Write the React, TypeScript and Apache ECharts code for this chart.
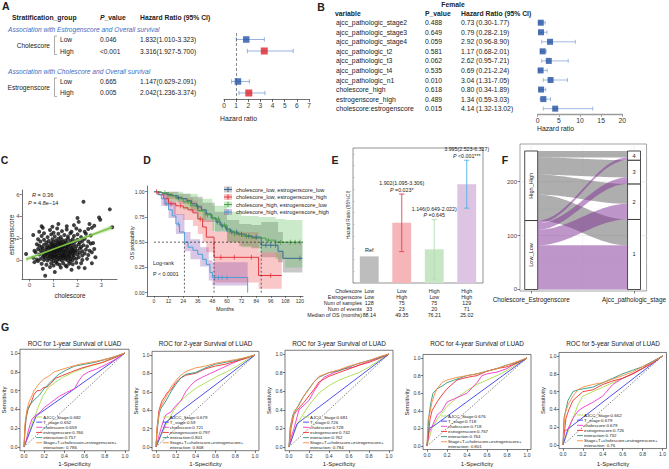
import React, { useEffect, useRef } from "react";
import * as echarts from "echarts";

const FONT = '"Liberation Sans", Arial, Helvetica, sans-serif';

/* ---------- A · stratified Cox models ---------- */
const A_STRATA = ["Cholescore", "Estrogenscore"];
const A_SUBTITLES = [
  "Association with Estrogenscore and Overall survival",
  "Association with Cholescore and Overall survival",
];
const A_LEVELS = ["Low", "High", "Low", "High"];
const A_P = ["0.046", "<0.001", "0.665", "0.005"];
const A_HR = [1.832, 3.316, 1.147, 2.042];
const A_LO = [1.01, 1.927, 0.629, 1.236];
const A_HI = [3.323, 5.7, 2.091, 3.374];
const A_TICKS = [0, 1, 2, 3, 4, 5, 6, 7];

/* ---------- B · multivariable Cox model, female patients ---------- */
const B_VARS = [
  "ajcc_pathologic_stage2",
  "ajcc_pathologic_stage3",
  "ajcc_pathologic_stage4",
  "ajcc_pathologic_t2",
  "ajcc_pathologic_t3",
  "ajcc_pathologic_t4",
  "ajcc_pathologic_n1",
  "cholescore_high",
  "estrogenscore_high",
  "cholescore:estrogenscore",
];
const B_P = ["0.488", "0.649", "0.059", "0.581", "0.062", "0.535", "0.010", "0.618", "0.489", "0.015"];
const B_HR = [0.73, 0.79, 2.92, 1.17, 2.62, 0.69, 3.04, 0.8, 1.34, 4.14];
const B_LO = [0.3, 0.28, 0.96, 0.68, 0.95, 0.21, 1.31, 0.34, 0.59, 1.32];
const B_HI = [1.77, 2.19, 8.9, 2.01, 7.21, 2.24, 7.05, 1.89, 3.03, 13.02];
const B_TICKS = [0, 5, 10, 15, 20];

/* ---------- C · cholescore vs estrogenscore ---------- */
const C_POINTS = [
  [0.65, -1.45], [1.05, -1.1], [1.75, -0.9], [2.3, -0.75], [1.3, -0.7], [0.85, -0.65], [1.55, -0.6], [2.05, -0.7], [0.55, -0.8],
  [0.2, -0.2], [0.5, -0.35], [0.7, -0.45], [0.9, -0.3], [1.0, -0.5], [1.15, -0.35], [1.25, -0.45], [1.4, -0.3], [1.5, -0.5],
  [1.65, -0.35], [1.8, -0.4], [1.95, -0.25], [2.6, -0.3], [0.35, -0.1], [1.1, -0.2], [1.7, -0.15], [2.15, -0.3],
  [0.45, 0.1], [0.6, 0.0], [0.65, 0.2], [0.75, -0.05], [0.8, 0.15], [0.9, 0.05], [0.95, 0.25], [1.0, -0.1], [1.05, 0.15],
  [1.1, 0.3], [1.15, 0.0], [1.2, 0.2], [1.25, 0.05], [1.3, 0.25], [1.35, -0.05], [1.4, 0.15], [1.45, 0.3], [1.5, 0.05],
  [1.55, 0.2], [1.6, -0.05], [1.65, 0.25], [1.7, 0.1], [1.8, 0.0], [1.85, 0.2], [1.95, 0.1], [2.05, 0.25], [2.2, 0.0],
  [0.55, 0.3], [0.3, 0.05], [-0.15, 0.55], [0.15, 0.2], [2.4, 0.1], [2.75, 0.25], [0.85, 0.35],
  [0.4, 0.5], [0.5, 0.65], [0.6, 0.4], [0.7, 0.55], [0.75, 0.35], [0.8, 0.7], [0.85, 0.5], [0.9, 0.6], [0.95, 0.4],
  [1.0, 0.55], [1.05, 0.7], [1.1, 0.45], [1.15, 0.6], [1.2, 0.4], [1.25, 0.65], [1.3, 0.5], [1.35, 0.35], [1.4, 0.6],
  [1.45, 0.45], [1.5, 0.7], [1.55, 0.4], [1.6, 0.55], [1.65, 0.45], [1.7, 0.65], [1.75, 0.35], [1.8, 0.6], [1.85, 0.45],
  [1.9, 0.7], [2.0, 0.5], [2.1, 0.65], [2.2, 0.4], [2.3, 0.6], [2.45, 0.45], [0.65, 0.6], [1.0, 0.35], [1.4, 0.4],
  [0.25, 0.7], [2.6, 0.7],
  [0.45, 0.9], [0.55, 1.05], [0.6, 0.8], [0.7, 0.95], [0.75, 0.75], [0.8, 1.1], [0.85, 0.85], [0.9, 1.0], [0.95, 0.8],
  [1.0, 0.95], [1.05, 0.75], [1.1, 1.05], [1.15, 0.85], [1.2, 1.0], [1.25, 0.8], [1.3, 1.1], [1.35, 0.9], [1.4, 0.75],
  [1.45, 1.0], [1.5, 0.85], [1.55, 1.1], [1.6, 0.8], [1.65, 0.95], [1.7, 0.75], [1.75, 1.05], [1.8, 0.9], [1.85, 0.8],
  [1.9, 1.0], [2.0, 0.85], [2.1, 1.05], [2.2, 0.8], [2.35, 0.95], [2.5, 0.85], [0.35, 1.0], [0.2, 0.85], [2.7, 1.0],
  [1.12, 0.92], [1.28, 0.95], [0.98, 0.88],
  [0.4, 1.3], [0.5, 1.2], [0.6, 1.4], [0.7, 1.15], [0.75, 1.35], [0.85, 1.2], [0.9, 1.45], [0.95, 1.25], [1.0, 1.15],
  [1.05, 1.4], [1.1, 1.2], [1.15, 1.35], [1.2, 1.5], [1.25, 1.2], [1.3, 1.4], [1.35, 1.15], [1.4, 1.3], [1.45, 1.5],
  [1.5, 1.25], [1.55, 1.4], [1.6, 1.2], [1.65, 1.45], [1.7, 1.3], [1.8, 1.15], [1.85, 1.4], [1.95, 1.25], [2.05, 1.45],
  [2.15, 1.2], [2.25, 1.35], [2.4, 1.25], [0.3, 1.45], [2.55, 1.5], [1.02, 1.32], [1.38, 1.22],
  [0.45, 1.7], [0.6, 1.85], [0.7, 1.6], [0.8, 1.75], [0.9, 1.55], [0.95, 1.9], [1.0, 1.65], [1.1, 1.8], [1.15, 1.6],
  [1.2, 1.95], [1.25, 1.7], [1.3, 1.55], [1.35, 1.85], [1.4, 1.65], [1.5, 1.8], [1.55, 1.6], [1.6, 1.95], [1.7, 1.75],
  [1.75, 1.55], [1.8, 1.9], [1.9, 1.7], [2.0, 1.85], [2.1, 1.6], [2.2, 1.75], [2.3, 1.95], [2.45, 1.7], [0.35, 1.9],
  [2.65, 1.55],
  [0.15, 2.3], [0.5, 2.2], [0.75, 2.1], [0.9, 2.35], [1.05, 2.15], [1.2, 2.4], [1.3, 2.1], [1.45, 2.3], [1.6, 2.15],
  [1.7, 2.45], [1.85, 2.2], [2.0, 2.35], [2.15, 2.1], [2.35, 2.4], [0.6, 2.45], [1.0, 2.5], [2.55, 2.25],
  [0.4, 2.6], [0.85, 2.75], [1.15, 2.9], [1.35, 2.65], [1.55, 2.8], [1.75, 2.6], [1.95, 2.9], [2.1, 2.7], [2.3, 2.6],
  [2.45, 2.85], [0.55, 2.95], [2.6, 2.95],
  [0.5, 3.1], [1.2, 3.3], [1.55, 3.1], [2.0, 3.85], [2.05, 3.5], [2.7, 3.15], [2.9, 3.9], [2.95, 3.7], [3.45, 3.0],
  [3.35, 4.65], [2.25, 5.35], [1.85, 3.2], [2.5, 3.3], [0.95, 3.05],
];
const C_FIT_INTERCEPT = 0.175;
const C_FIT_SLOPE = 0.82;
const C_BAND_X = [-0.15, 0.5, 1.2, 2.0, 2.8, 3.45];
const C_BAND_HALF = [0.22, 0.11, 0.07, 0.1, 0.17, 0.25];
const C_X_TICKS = [0, 1, 2, 3];
const C_Y_TICKS = [0, 2, 4, 6];

/* ---------- D · Kaplan–Meier by cholescore / estrogenscore ---------- */
// event times (months) and survival after each step
const KM_LL_T = [0, 3, 7, 11, 15, 19, 23, 27, 31, 35, 39, 43, 47, 51, 55, 59, 63, 69, 75, 81, 88.14, 102, 106];
const KM_LL_S = [1, 0.99, 0.98, 0.97, 0.96, 0.94, 0.93, 0.91, 0.88, 0.85, 0.82, 0.78, 0.74, 0.7, 0.66, 0.63, 0.6, 0.58, 0.56, 0.55, 0.47, 0.41, 0.34];
const KM_LL_END = 122;
const KM_LL_BT = [0, 10, 20, 30, 40, 50, 60, 70, 80, 88.14, 102, 106];
const KM_LL_LO = [1, 0.93, 0.88, 0.8, 0.7, 0.6, 0.5, 0.46, 0.44, 0.35, 0.3, 0.2];
const KM_LL_HI = [1, 1, 0.98, 0.95, 0.89, 0.8, 0.72, 0.68, 0.67, 0.7, 0.6, 0.5];
const KM_LL_CENSOR = [20, 36, 52, 56, 60, 64, 68, 72, 78, 84, 92, 96, 100, 120];

const KM_LH_T = [0, 4, 8, 12, 18, 24, 28, 32, 36, 40, 43, 49.35, 86];
const KM_LH_S = [1, 0.97, 0.93, 0.88, 0.86, 0.84, 0.82, 0.79, 0.73, 0.65, 0.55, 0.35, 0.17];
const KM_LH_END = 105;
const KM_LH_BT = [0, 8, 16, 24, 32, 36, 40, 43, 49.35, 86];
const KM_LH_LO = [1, 0.86, 0.77, 0.72, 0.66, 0.58, 0.5, 0.4, 0.1, 0.04];
const KM_LH_HI = [1, 0.99, 0.96, 0.94, 0.91, 0.87, 0.8, 0.72, 0.6, 0.4];
const KM_LH_CENSOR = [2, 14, 22, 38, 55, 66, 80, 96];

const KM_HL_T = [0, 6, 12, 18, 24, 30, 36, 42, 48, 54, 60, 66, 72, 80, 92, 100];
const KM_HL_S = [1, 0.99, 0.96, 0.93, 0.9, 0.86, 0.81, 0.77, 0.73, 0.67, 0.61, 0.58, 0.56, 0.54, 0.52, 0.5];
const KM_HL_END = 122;
const KM_HL_BT = [0, 12, 24, 36, 48, 60, 72, 86, 100, 108];
const KM_HL_LO = [1, 0.9, 0.82, 0.72, 0.61, 0.5, 0.45, 0.4, 0.33, 0.25];
const KM_HL_HI = [1, 1, 0.98, 0.93, 0.86, 0.8, 0.76, 0.75, 0.73, 0.72];
const KM_HL_CENSOR = [9, 28, 44, 53, 58, 62, 66, 70, 76, 94, 104, 112, 116, 120];

const KM_HH_T = [0, 3, 6, 9, 12, 15, 18, 21, 25.02, 28, 32, 36, 40, 43, 46, 48, 77];
const KM_HH_S = [1, 0.97, 0.93, 0.88, 0.82, 0.76, 0.68, 0.6, 0.5, 0.45, 0.42, 0.38, 0.33, 0.28, 0.2, 0.15, 0];
const KM_HH_END = 77;
const KM_HH_BT = [0, 6, 12, 18, 25.02, 30, 38, 45, 48];
const KM_HH_LO = [1, 0.86, 0.74, 0.58, 0.41, 0.33, 0.26, 0.12, 0.07];
const KM_HH_HI = [1, 0.98, 0.9, 0.78, 0.6, 0.53, 0.45, 0.32, 0.3];
const KM_HH_CENSOR = [10, 20, 50, 53, 56, 60];

const KM_X_TICKS = [0, 12, 24, 36, 48, 60, 72, 84, 96, 108, 120];
const KM_Y_TICKS = [0, 0.25, 0.5, 0.75, 1];

/* ---------- E · hazard ratios of the four groups ---------- */
const E_CHOLE = ["Low", "Low", "High", "High"];
const E_ESTRO = ["Low", "High", "Low", "High"];
const E_SAMPLES = [128, 75, 75, 129];
const E_EVENTS = [33, 23, 20, 71];
const E_MEDIAN = [88.14, 49.35, 76.21, 25.02];
const E_HR = [1, 1.902, 1.146, 3.995];
const E_LO = [null, 1.095, 0.649, 2.523];
const E_HI = [null, 3.306, 2.022, 6.327];
const E_P = [null, "0.023*", "0.645", "<0.001***"];
const E_ROWS = ["Cholescore", "Estrogenscore", "Num of samples", "Num of events", "Median of OS (months)"];

/* ---------- F · alluvial: group -> pathologic stage ---------- */
const F_AXES = ["Cholescore_Estrogenscore", "Ajcc_pathologic_stage"];
const F_LEFT = ["Low_Low", "High_High"];
const F_RIGHT = ["1", "2", "3", "4"];
const F_COUNTS = [
  [82, 29, 12, 5],
  [48, 37, 32, 12],
];
const F_Y_TICKS = [0, 100, 200];

/* ---------- G · time-dependent ROC ---------- */
const ROC_MODELS = ["AJCC_Stage", "T_stage", "cholescore", "estrogenscore", "interaction", "Stage+T+cholescore+estrogenscore+"];
const ROC_YEARS = [1, 2, 3, 4, 5];
const ROC_AUC = [
  [0.682, 0.652, 0.659, 0.766, 0.757, 0.786],
  [0.679, 0.59, 0.721, 0.797, 0.801, 0.808],
  [0.681, 0.726, 0.728, 0.742, 0.762, 0.784],
  [0.676, 0.718, 0.718, 0.767, 0.764, 0.801],
  [0.662, 0.679, 0.679, 0.726, 0.732, 0.76],
];
const ROC_1Y = [
  [[0, 0], [0.04, 0.12], [0.09, 0.28], [0.14, 0.42], [0.19, 0.55], [0.24, 0.63], [0.3, 0.68], [0.38, 0.74], [0.5, 0.8], [0.62, 0.85], [0.75, 0.89], [0.88, 0.95], [1, 1]],
  [[0, 0], [0.12, 0.33], [1, 1]],
  [[0, 0], [0.02, 0.06], [0.04, 0.16], [0.06, 0.24], [0.08, 0.3], [0.12, 0.34], [0.16, 0.37], [0.2, 0.42], [0.25, 0.46], [0.3, 0.5], [0.35, 0.54], [0.42, 0.58], [0.5, 0.62], [0.54, 0.7], [0.58, 0.76], [0.64, 0.8], [0.72, 0.83], [0.8, 0.87], [0.9, 0.93], [1, 1]],
  [[0, 0], [0.01, 0.18], [0.02, 0.3], [0.04, 0.4], [0.07, 0.47], [0.1, 0.56], [0.13, 0.6], [0.16, 0.6], [0.19, 0.63], [0.23, 0.64], [0.27, 0.68], [0.31, 0.73], [0.38, 0.76], [0.47, 0.8], [0.57, 0.84], [0.67, 0.87], [0.78, 0.9], [0.9, 0.95], [1, 1]],
  [[0, 0], [0.01, 0.22], [0.03, 0.38], [0.06, 0.45], [0.1, 0.5], [0.15, 0.55], [0.2, 0.62], [0.27, 0.7], [0.34, 0.77], [0.42, 0.82], [0.5, 0.86], [0.6, 0.88], [0.7, 0.9], [0.8, 0.93], [0.9, 0.96], [1, 1]],
  [[0, 0], [0.01, 0.25], [0.03, 0.4], [0.05, 0.48], [0.08, 0.55], [0.1, 0.6], [0.14, 0.66], [0.19, 0.72], [0.24, 0.75], [0.3, 0.8], [0.36, 0.82], [0.45, 0.85], [0.55, 0.88], [0.65, 0.9], [0.75, 0.92], [0.86, 0.95], [0.95, 0.98], [1, 1]],
];
const ROC_2Y = [
  [[0, 0], [0.05, 0.12], [0.1, 0.24], [0.18, 0.4], [0.25, 0.5], [0.33, 0.58], [0.42, 0.65], [0.52, 0.71], [0.62, 0.77], [0.72, 0.82], [0.82, 0.88], [0.92, 0.95], [1, 1]],
  [[0, 0], [0.1, 0.27], [1, 1]],
  [[0, 0], [0.02, 0.08], [0.05, 0.2], [0.08, 0.3], [0.1, 0.35], [0.15, 0.38], [0.2, 0.45], [0.25, 0.5], [0.3, 0.6], [0.35, 0.67], [0.4, 0.72], [0.47, 0.76], [0.55, 0.8], [0.65, 0.85], [0.75, 0.9], [0.86, 0.95], [1, 1]],
  [[0, 0], [0.01, 0.2], [0.03, 0.4], [0.06, 0.5], [0.09, 0.55], [0.12, 0.6], [0.15, 0.62], [0.2, 0.7], [0.25, 0.75], [0.3, 0.78], [0.4, 0.8], [0.5, 0.85], [0.6, 0.88], [0.7, 0.9], [0.8, 0.93], [0.9, 0.96], [1, 1]],
  [[0, 0], [0.01, 0.15], [0.03, 0.35], [0.05, 0.42], [0.1, 0.5], [0.15, 0.6], [0.2, 0.68], [0.25, 0.75], [0.3, 0.79], [0.4, 0.81], [0.5, 0.86], [0.6, 0.9], [0.7, 0.92], [0.8, 0.94], [0.9, 0.97], [1, 1]],
  [[0, 0], [0.01, 0.2], [0.04, 0.42], [0.08, 0.5], [0.12, 0.58], [0.15, 0.65], [0.2, 0.72], [0.25, 0.78], [0.3, 0.82], [0.4, 0.86], [0.5, 0.88], [0.6, 0.91], [0.7, 0.93], [0.8, 0.95], [0.9, 0.97], [1, 1]],
];
const ROC_3Y = [
  [[0, 0], [0.05, 0.15], [0.1, 0.28], [0.2, 0.45], [0.3, 0.58], [0.4, 0.66], [0.5, 0.72], [0.6, 0.76], [0.7, 0.8], [0.8, 0.86], [0.9, 0.93], [1, 1]],
  [[0, 0], [0.08, 0.25], [1, 1]],
  [[0, 0], [0.02, 0.1], [0.05, 0.2], [0.1, 0.4], [0.15, 0.45], [0.2, 0.5], [0.25, 0.6], [0.3, 0.68], [0.35, 0.75], [0.45, 0.8], [0.55, 0.84], [0.65, 0.86], [0.75, 0.9], [0.85, 0.94], [1, 1]],
  [[0, 0], [0.02, 0.2], [0.05, 0.35], [0.1, 0.42], [0.15, 0.48], [0.2, 0.55], [0.25, 0.62], [0.3, 0.7], [0.4, 0.76], [0.5, 0.8], [0.6, 0.84], [0.7, 0.88], [0.8, 0.91], [0.9, 0.95], [1, 1]],
  [[0, 0], [0.01, 0.2], [0.04, 0.35], [0.08, 0.42], [0.12, 0.5], [0.18, 0.6], [0.25, 0.7], [0.3, 0.75], [0.4, 0.8], [0.5, 0.82], [0.6, 0.86], [0.7, 0.9], [0.8, 0.93], [0.9, 0.96], [1, 1]],
  [[0, 0], [0.02, 0.25], [0.05, 0.38], [0.1, 0.45], [0.15, 0.55], [0.2, 0.62], [0.25, 0.7], [0.3, 0.76], [0.4, 0.8], [0.5, 0.83], [0.6, 0.87], [0.7, 0.9], [0.8, 0.93], [0.9, 0.97], [1, 1]],
];
const ROC_4Y = [
  [[0, 0], [0.05, 0.2], [0.1, 0.3], [0.2, 0.45], [0.3, 0.55], [0.4, 0.63], [0.5, 0.7], [0.6, 0.75], [0.7, 0.8], [0.8, 0.86], [0.9, 0.93], [1, 1]],
  [[0, 0], [0.02, 0.2], [0.07, 0.23], [1, 1]],
  [[0, 0], [0.02, 0.15], [0.05, 0.22], [0.1, 0.35], [0.15, 0.4], [0.2, 0.5], [0.3, 0.55], [0.4, 0.6], [0.5, 0.72], [0.55, 0.8], [0.6, 0.82], [0.7, 0.84], [0.8, 0.88], [0.9, 0.95], [1, 1]],
  [[0, 0], [0.03, 0.3], [0.05, 0.4], [0.1, 0.5], [0.15, 0.58], [0.2, 0.65], [0.25, 0.7], [0.3, 0.75], [0.4, 0.78], [0.5, 0.8], [0.6, 0.85], [0.7, 0.88], [0.8, 0.9], [0.9, 0.94], [1, 1]],
  [[0, 0], [0.02, 0.35], [0.04, 0.5], [0.06, 0.6], [0.1, 0.65], [0.15, 0.68], [0.2, 0.72], [0.3, 0.76], [0.4, 0.8], [0.5, 0.82], [0.6, 0.85], [0.7, 0.88], [0.8, 0.92], [0.9, 0.95], [1, 1]],
  [[0, 0], [0.01, 0.3], [0.03, 0.38], [0.05, 0.5], [0.08, 0.6], [0.1, 0.65], [0.15, 0.72], [0.2, 0.75], [0.3, 0.78], [0.4, 0.8], [0.5, 0.82], [0.6, 0.85], [0.7, 0.88], [0.8, 0.92], [0.9, 0.96], [1, 1]],
];
const ROC_5Y = [
  [[0, 0], [0.05, 0.15], [0.1, 0.3], [0.15, 0.45], [0.2, 0.55], [0.3, 0.6], [0.4, 0.65], [0.5, 0.7], [0.6, 0.75], [0.7, 0.8], [0.8, 0.86], [0.9, 0.93], [1, 1]],
  [[0, 0], [0.05, 0.18], [1, 1]],
  [[0, 0], [0.01, 0.15], [0.05, 0.18], [0.1, 0.3], [0.15, 0.38], [0.2, 0.42], [0.3, 0.48], [0.4, 0.55], [0.5, 0.68], [0.6, 0.75], [0.7, 0.8], [0.8, 0.86], [0.9, 0.93], [1, 1]],
  [[0, 0], [0.03, 0.3], [0.06, 0.4], [0.1, 0.5], [0.15, 0.55], [0.2, 0.6], [0.3, 0.62], [0.4, 0.68], [0.5, 0.72], [0.6, 0.75], [0.7, 0.8], [0.8, 0.86], [0.9, 0.92], [1, 1]],
  [[0, 0], [0.01, 0.3], [0.03, 0.4], [0.05, 0.5], [0.1, 0.6], [0.15, 0.62], [0.2, 0.63], [0.3, 0.65], [0.4, 0.7], [0.5, 0.75], [0.6, 0.8], [0.7, 0.84], [0.8, 0.88], [0.9, 0.94], [1, 1]],
  [[0, 0], [0.01, 0.2], [0.02, 0.35], [0.05, 0.45], [0.1, 0.55], [0.15, 0.62], [0.2, 0.65], [0.3, 0.68], [0.4, 0.7], [0.5, 0.74], [0.6, 0.78], [0.7, 0.82], [0.8, 0.88], [0.9, 0.93], [1, 1]],
];
const ROC_CURVES = [ROC_1Y, ROC_2Y, ROC_3Y, ROC_4Y, ROC_5Y];
const ROC_TICKS = [0, 0.2, 0.4, 0.6, 0.8, 1];

/* ---------- styling & layout ---------- */
const BLUE = "#2452a6";
const RED = "#e0202b";
const ROC_COLORS = ["#a9dd4b", "#3b3bf2", "#f238c6", "#f03030", "#2f967a", "#fb8a3f"];
const KM_COLORS = ["#2c5c8a", "#e0242a", "#3c9a3c", "#3d9bd3"];
const KM_BANDS = ["rgba(110,110,110,0.38)", "rgba(236,80,80,0.32)", "rgba(90,190,90,0.32)", "rgba(140,80,180,0.33)"];
const E_BAR_COLORS = ["#bdbdbd", "#f6b5b8", "#c6e6c4", "#dcc4e2"];
const E_ERR_COLORS = ["#999", "#e4424f", "#b2dcb0", "#4db3e6"];
const F_COLORS = ["rgba(128,45,150,0.5)", "rgba(85,85,85,0.48)"];

const A_ROW_TOP = 39.5;
const A_ROW_STEP = 11.5;
const A_ROW_SLOT = [0, 1, 3.65, 4.65];
const B_ROW_TOP = 22.7;
const B_ROW_STEP = 9.55;
// frames of the ROC plots: x of 0 and 1, y of 1 and 0
const G_FRAMES = [
  [24, 125, 353, 447],
  [156, 255, 355, 447],
  [289, 389, 354, 447],
  [427, 527, 358, 446],
  [563, 663, 356, 445],
];
const G_LEGEND_AT = [0.19, 0.14, 0.21, 0.21, 0.21];

function stepAt(ts: number[], ss: number[], t: number) {
  let v = ss[0];
  for (let i = 0; i < ts.length; i++) if (ts[i] <= t) v = ss[i];
  return v;
}

function stepPolygon(bt: number[], lo: number[], hi: number[], end: number) {
  const up: number[][] = [];
  const dn: number[][] = [];
  for (let i = 0; i < bt.length; i++) {
    const t1 = i + 1 < bt.length ? bt[i + 1] : end;
    up.push([bt[i], hi[i]], [t1, hi[i]]);
    dn.push([bt[i], lo[i]], [t1, lo[i]]);
  }
  return up.concat(dn.reverse());
}

function buildOption() {
  const grid: any[] = [];
  const xAxis: any[] = [];
  const yAxis: any[] = [];
  const series: any[] = [];
  const graphic: any[] = [];

  const hidden = { axisLine: { show: false, onZero: false }, axisTick: { show: false }, axisLabel: { show: false }, splitLine: { show: false } };
  const addGrid = (rect: any, xa: any, ya: any) => {
    const g = grid.length;
    grid.push({ containLabel: false, ...rect });
    xAxis.push({ ...xa, gridIndex: g });
    yAxis.push({ ...ya, gridIndex: g });
    return { x: xAxis.length - 1, y: yAxis.length - 1 };
  };
  const text = (x: number, y: number, t: string, o: any = {}) => {
    const base: any = {
      fontFamily: FONT,
      fontSize: o.size ?? 6.6,
      fill: o.color ?? "#222",
      fontWeight: o.bold ? "bold" : "normal",
      fontStyle: o.italic ? "italic" : "normal",
    };
    const style: any = {
      ...base,
      text: t,
      textAlign: o.align ?? "left",
      textVerticalAlign: o.valign ?? "middle",
      align: o.align ?? "left",
      verticalAlign: o.valign ?? "middle",
    };
    if (o.rich) {
      style.rich = {};
      for (const k in o.rich) style.rich[k] = { ...base, ...o.rich[k] };
    }
    graphic.push({ type: "text", x, y, rotation: o.rot ?? 0, silent: true, z: 60, style });
  };
  const gline = (x1: number, y1: number, x2: number, y2: number, stroke: string, w = 0.8) =>
    graphic.push({ type: "line", silent: true, z: 55, shape: { x1, y1, x2, y2 }, style: { stroke, lineWidth: w } });
  const axisLineStyle = (c = "#222", w = 0.6) => ({ color: c, width: w });
  const errRender = (color: string, cap: number) => (params: any, api: any) => {
    const y = api.value(2);
    const a = api.coord([api.value(0), y]);
    const b = api.coord([api.value(1), y]);
    const st = { stroke: color, lineWidth: 0.8 };
    return {
      type: "group",
      children: [
        { type: "line", shape: { x1: a[0], y1: a[1], x2: b[0], y2: b[1] }, style: st },
        { type: "line", shape: { x1: a[0], y1: a[1] - cap, x2: a[0], y2: a[1] + cap }, style: st },
        { type: "line", shape: { x1: b[0], y1: b[1] - cap, x2: b[0], y2: b[1] + cap }, style: st },
      ],
    };
  };

  /* ===== A ===== */
  const aRowY = A_ROW_SLOT.map((s) => A_ROW_TOP + s * A_ROW_STEP);
  text(2, 6, "A", { size: 10.5, bold: true });
  text(12, 17, "Stratification_group", { bold: true, size: 6.8 });
  text(100, 17, "{i|P}_value", { bold: true, size: 6.8, rich: { i: { fontStyle: "italic" } } });
  text(140, 17, "Hazard Ratio (95% CI)", { bold: true, size: 6.8 });
  text(8, aRowY[0] - 10.5, A_SUBTITLES[0], { italic: true, color: "#3d6cc0", size: 6.6 });
  text(8, aRowY[2] - 9.5, A_SUBTITLES[1], { italic: true, color: "#3d6cc0", size: 6.6 });
  A_STRATA.forEach((name, g) => {
    const y0 = aRowY[g * 2];
    const y1 = aRowY[g * 2 + 1];
    text(50, (y0 + y1) / 2, name, { align: "right", size: 6.6 });
    graphic.push({
      type: "polyline",
      silent: true,
      shape: { points: [[57, y0 - 3.5], [54.5, y0 - 3.5], [54.5, y1 + 3.5], [57, y1 + 3.5]] },
      style: { stroke: "#888", lineWidth: 0.7, fill: "none" },
    });
  });
  A_LEVELS.forEach((lv, i) => {
    text(60, aRowY[i], lv, { size: 6.6 });
    text(100, aRowY[i], A_P[i], { size: 6.6 });
    text(140, aRowY[i], `${A_HR[i].toFixed(3)}(${A_LO[i].toFixed(3)}-${A_HI[i].toFixed(3)})`, { size: 6.6 });
  });
  const aAx = addGrid(
    { left: 224, top: 33, width: 85, height: 66 },
    {
      type: "value", min: 0, max: 7, interval: 1,
      axisLine: { show: true, onZero: false, lineStyle: axisLineStyle("#333", 0.7) },
      axisTick: { show: true, length: 3, lineStyle: axisLineStyle("#333", 0.7) },
      axisLabel: { show: true, fontSize: 6.6, color: "#333", margin: 3, fontFamily: FONT, customValues: A_TICKS },
      splitLine: { show: false },
    },
    { type: "value", inverse: true, min: (33 - A_ROW_TOP) / A_ROW_STEP, max: (99 - A_ROW_TOP) / A_ROW_STEP, ...hidden }
  );
  series.push({
    type: "custom", xAxisIndex: aAx.x, yAxisIndex: aAx.y, clip: false,
    data: A_HR.map((_, i) => [A_LO[i], A_HI[i], A_ROW_SLOT[i]]),
    encode: { x: [0, 1], y: 2 },
    renderItem: errRender("#7d9fd9", 2.2),
  });
  series.push({
    type: "scatter", xAxisIndex: aAx.x, yAxisIndex: aAx.y, symbol: "rect",
    data: A_HR.map((v, i) => ({ value: [v, A_ROW_SLOT[i]], symbolSize: i % 2 ? 7 : 6.5, itemStyle: { color: i % 2 ? RED : BLUE } })),
    markLine: {
      silent: true, symbol: "none", label: { show: false },
      lineStyle: { type: [3, 2], color: "#555", width: 0.7 },
      data: [{ xAxis: 1 }],
    },
    z: 5,
  });
  text(220, 118, "Hazard ratio", { size: 6.8 });

  /* ===== B ===== */
  text(321, 7, "B", { size: 10.5, bold: true, align: "center" });
  text(453, 4.5, "Female", { size: 6.8, bold: true, align: "center" });
  text(335, 13.3, "variable", { size: 6.8, bold: true });
  text(425, 13.3, "P_value", { size: 6.8, bold: true });
  text(461, 13.3, "Hazard Ratio (95% CI)", { size: 6.8, bold: true });
  B_VARS.forEach((v, i) => {
    const y = B_ROW_TOP + i * B_ROW_STEP;
    text(336, y, v, { size: 6.8 });
    text(425, y, B_P[i], { size: 6.8 });
    text(461, y, `${B_HR[i].toFixed(2)} (${B_LO[i].toFixed(2)}-${B_HI[i].toFixed(2)})`, { size: 6.8 });
  });
  const bAx = addGrid(
    { left: 537.7, top: 18, width: 84.6, height: 96 },
    {
      type: "value", min: 0, max: 20, interval: 5,
      axisLine: { show: true, onZero: false, lineStyle: axisLineStyle("#9b9b9b", 1.3) },
      axisTick: { show: true, length: 3, lineStyle: axisLineStyle("#9b9b9b", 0.9) },
      axisLabel: { show: true, fontSize: 6.8, color: "#333", margin: 3, fontFamily: FONT, customValues: B_TICKS },
      splitLine: { show: false },
    },
    { type: "value", inverse: true, min: (18 - B_ROW_TOP) / B_ROW_STEP, max: (114 - B_ROW_TOP) / B_ROW_STEP, ...hidden }
  );
  series.push({
    type: "custom", xAxisIndex: bAx.x, yAxisIndex: bAx.y, clip: false,
    data: B_HR.map((_, i) => [B_LO[i], B_HI[i], i]),
    encode: { x: [0, 1], y: 2 },
    renderItem: errRender("#8aa8dc", 2),
  });
  series.push({
    type: "scatter", xAxisIndex: bAx.x, yAxisIndex: bAx.y, symbol: "rect", symbolSize: 6,
    itemStyle: { color: "#2150a0" },
    data: B_HR.map((v, i) => [v, i]),
    z: 5,
  });
  text(537, 128.5, "Hazard ratio", { size: 6.8 });

  /* ===== C ===== */
  text(4.5, 160, "C", { size: 10.5, bold: true, align: "center" });
  const cAxisCommon = (ticks: number[]) => ({
    type: "value",
    axisLine: { show: true, onZero: false, lineStyle: axisLineStyle("#111", 0.6) },
    axisTick: { show: true, length: 2.5, customValues: ticks, lineStyle: axisLineStyle("#333", 0.6) },
    axisLabel: { show: true, customValues: ticks, fontSize: 5.8, color: "#4d4d4d", margin: 2.5, fontFamily: FONT },
    splitLine: { show: false },
  });
  const cAx = addGrid(
    { left: 22, top: 190, width: 95, height: 89 },
    { ...cAxisCommon(C_X_TICKS), min: -0.32, max: 3.65 },
    { ...cAxisCommon(C_Y_TICKS), min: -1.75, max: 6.43 }
  );
  series.push({
    type: "scatter", xAxisIndex: cAx.x, yAxisIndex: cAx.y, symbolSize: 4,
    itemStyle: { color: "#111" }, data: C_POINTS,
  });
  const cFit = (x: number) => C_FIT_INTERCEPT + C_FIT_SLOPE * x;
  series.push({
    type: "custom", xAxisIndex: cAx.x, yAxisIndex: cAx.y, clip: false,
    data: [[1.2, cFit(1.2)]],
    renderItem: (_p: any, api: any) => {
      const up = C_BAND_X.map((x, i) => api.coord([x, cFit(x) + C_BAND_HALF[i]]));
      const dn = C_BAND_X.map((x, i) => api.coord([x, cFit(x) - C_BAND_HALF[i]])).reverse();
      return { type: "polygon", shape: { points: up.concat(dn) }, style: { fill: "rgba(140,205,100,0.38)" } };
    },
    z: 3,
  });
  const cxs = C_POINTS.map((p) => p[0]);
  const cx0 = Math.min(...cxs);
  const cx1 = Math.max(...cxs);
  series.push({
    type: "line", xAxisIndex: cAx.x, yAxisIndex: cAx.y, symbol: "none",
    data: [[cx0, cFit(cx0)], [cx1, cFit(cx1)]],
    lineStyle: { color: "#7cc242", width: 1.4 }, z: 4,
  });
  text(32, 194.5, "{i|R} = 0.36", { size: 5.6, rich: { i: { fontStyle: "italic" } } });
  text(28, 203.3, "{i|P} = 4.8e\u221214", { size: 5.6, rich: { i: { fontStyle: "italic" } } });
  text(70, 295, "cholescore", { size: 6.4, align: "center", color: "#222" });
  text(11, 235, "estrogenscore", { size: 6.4, align: "center", rot: Math.PI / 2, color: "#222" });

  /* ===== D ===== */
  text(147, 160, "D", { size: 10.5, bold: true, align: "center" });
  const KM = [
    { t: KM_LL_T, s: KM_LL_S, end: KM_LL_END, bt: KM_LL_BT, lo: KM_LL_LO, hi: KM_LL_HI, cens: KM_LL_CENSOR },
    { t: KM_LH_T, s: KM_LH_S, end: KM_LH_END, bt: KM_LH_BT, lo: KM_LH_LO, hi: KM_LH_HI, cens: KM_LH_CENSOR },
    { t: KM_HL_T, s: KM_HL_S, end: KM_HL_END, bt: KM_HL_BT, lo: KM_HL_LO, hi: KM_HL_HI, cens: KM_HL_CENSOR },
    { t: KM_HH_T, s: KM_HH_S, end: KM_HH_END, bt: KM_HH_BT, lo: KM_HH_LO, hi: KM_HH_HI, cens: KM_HH_CENSOR },
  ];
  const dCommon = (ticks: number[], fmt: (v: number) => string) => ({
    type: "value",
    axisLine: { show: true, onZero: false, lineStyle: axisLineStyle("#111", 0.6) },
    axisTick: { show: true, length: 2, customValues: ticks, lineStyle: axisLineStyle("#333", 0.6) },
    axisLabel: { show: true, customValues: ticks, fontSize: 5, color: "#333", margin: 2.5, fontFamily: FONT, formatter: fmt },
    splitLine: { show: false },
  });
  const dAx = addGrid(
    { left: 147, top: 186, width: 156, height: 110 },
    { ...dCommon(KM_X_TICKS, (v) => String(v)), min: -5.75, max: 122.5 },
    { ...dCommon(KM_Y_TICKS, (v) => v.toFixed(2)), min: -0.033, max: 1.056 }
  );
  series.push({
    type: "custom", xAxisIndex: dAx.x, yAxisIndex: dAx.y, clip: true,
    data: KM.map(() => [60, 0.5]),
    renderItem: (p: any, api: any) => {
      const g = KM[p.dataIndex];
      const pts = stepPolygon(g.bt, g.lo, g.hi, g.end).map((q) => api.coord(q));
      return { type: "polygon", shape: { points: pts }, style: { fill: KM_BANDS[p.dataIndex] } };
    },
    z: 1,
  });
  KM.forEach((g, k) => {
    const pts = g.t.map((t, i) => [t, g.s[i]]);
    if (g.end > g.t[g.t.length - 1]) pts.push([g.end, g.s[g.s.length - 1]]);
    series.push({
      type: "line", xAxisIndex: dAx.x, yAxisIndex: dAx.y, step: "end", symbol: "none",
      data: pts, lineStyle: { color: KM_COLORS[k], width: 0.9 }, z: 3,
    });
    series.push({
      type: "scatter", xAxisIndex: dAx.x, yAxisIndex: dAx.y, symbol: "rect", symbolSize: [0.8, 5],
      itemStyle: { color: KM_COLORS[k] },
      data: g.cens.map((t) => [t, stepAt(g.t, g.s, t)]), z: 4,
    });
  });
  const medLines: number[][][] = [[[0, 0.5], [122.5, 0.5]]];
  KM.forEach((g, k) => {
    if (Math.min(...g.s) < 0.5) medLines.push([[E_MEDIAN[k], 0], [E_MEDIAN[k], 0.5]]);
  });
  medLines.forEach((d) =>
    series.push({
      type: "line", xAxisIndex: dAx.x, yAxisIndex: dAx.y, symbol: "none", data: d,
      lineStyle: { color: "#222", width: 0.7, type: [2, 2] }, z: 5,
    })
  );
  KM.forEach((_, k) => {
    const y = 189.5 + k * 7.5;
    graphic.push({ type: "rect", silent: true, z: 50, shape: { x: 224, y: y - 3, width: 8, height: 6 }, style: { fill: KM_BANDS[k] } });
    gline(224, y, 232, y, KM_COLORS[k], 0.9);
    gline(228, y - 2.6, 228, y + 2.6, KM_COLORS[k], 0.9);
    text(236, y, `cholescore_${E_CHOLE[k].toLowerCase()}, estrogenscore_${E_ESTRO[k].toLowerCase()}`, { size: 5.6 });
  });
  text(153, 263.3, "Log-rank", { size: 5.3 });
  text(153, 274, "P < 0.0001", { size: 5.3 });
  text(225, 309, "Months", { size: 5.5, align: "center" });
  text(132, 243, "OS probability", { size: 5.3, align: "center", rot: Math.PI / 2 });

  /* ===== E ===== */
  text(335, 160, "E", { size: 10.5, bold: true, align: "center" });
  const E_MIN = 0.6;
  const eAx = addGrid(
    { left: 353, top: 148, width: 130, height: 135, show: true, borderColor: "#666", borderWidth: 0.7 },
    {
      type: "category", data: E_HR.map((_, i) => String(i)), boundaryGap: true,
      axisLine: { show: false }, axisTick: { show: false }, splitLine: { show: false },
      axisLabel: {
        show: true, interval: 0, fontSize: 5.3, lineHeight: 6.1, margin: 5, color: "#222", fontFamily: FONT,
        formatter: (_v: string, i: number) =>
          [E_CHOLE[i], E_ESTRO[i], E_SAMPLES[i], E_EVENTS[i], E_MEDIAN[i].toFixed(2)].join("\n"),
      },
    },
    { type: "log", min: E_MIN, max: 8, ...hidden }
  );
  yAxis.push({
    type: "value", gridIndex: grid.length - 1, min: 0, max: 11.5, interval: 1, position: "left",
    axisLine: { show: false, onZero: false }, splitLine: { show: false }, axisLabel: { show: false },
    axisTick: { show: true, inside: true, length: 1.6, lineStyle: { color: "#aaa", width: 0.6 } },
  });
  E_ROWS.forEach((r, k) => text(362, 291 + k * 6.1, r, { size: 5.3, align: "right" }));
  series.push({
    type: "custom", xAxisIndex: eAx.x, yAxisIndex: eAx.y, clip: false,
    data: E_HR.map((v, i) => [i, v]),
    renderItem: (p: any, api: any) => {
      const i = p.dataIndex;
      const top = api.coord([i, E_HR[i]]);
      const base = api.coord([i, E_MIN]);
      const step = api.coord([1, 1])[0] - api.coord([0, 1])[0];
      const w = step * 0.58;
      return { type: "rect", shape: { x: top[0] - w / 2, y: top[1], width: w, height: base[1] - top[1] }, style: { fill: E_BAR_COLORS[i] } };
    },
    z: 2,
  });
  const rich = { i: { fontStyle: "italic", fontSize: 5.3, fontFamily: FONT, fill: "#222" } };
  series.push({
    type: "custom", xAxisIndex: eAx.x, yAxisIndex: eAx.y, clip: false,
    data: E_HR.map((v, i) => [i, v]),
    renderItem: (p: any, api: any) => {
      const i = p.dataIndex;
      const ts = { fontSize: 5.3, fontFamily: FONT, fill: "#222", textAlign: "center", align: "center", textVerticalAlign: "middle", verticalAlign: "middle" };
      if (E_LO[i] == null) {
        const top = api.coord([i, E_HR[i]]);
        return { type: "text", x: top[0], y: top[1] - 6.5, style: { ...ts, text: "Ref", fontSize: 5.6 } };
      }
      const hi = api.coord([i, E_HI[i]]);
      const lo = api.coord([i, E_LO[i]]);
      const st = { stroke: E_ERR_COLORS[i], lineWidth: 0.9 };
      const pv = E_P[i] as string;
      return {
        type: "group",
        children: [
          { type: "line", shape: { x1: hi[0], y1: hi[1], x2: lo[0], y2: lo[1] }, style: st },
          { type: "line", shape: { x1: hi[0] - 2.6, y1: hi[1], x2: hi[0] + 2.6, y2: hi[1] }, style: st },
          { type: "line", shape: { x1: lo[0] - 2.6, y1: lo[1], x2: lo[0] + 2.6, y2: lo[1] }, style: st },
          { type: "text", x: hi[0], y: hi[1] - 11, style: { ...ts, text: `${E_HR[i].toFixed(3)}(${(E_LO[i] as number).toFixed(3)}-${(E_HI[i] as number).toFixed(3)})` } },
          { type: "text", x: hi[0], y: hi[1] - 4.5, style: { ...ts, text: pv.startsWith("<") ? `{i|P} ${pv}` : `{i|P} =${pv}`, rich } },
        ],
      };
    },
    z: 4,
  });
  text(348, 215, "Hazard Ratio (95%CI)", { size: 5, align: "center", rot: Math.PI / 2, color: "#333" });

  /* ===== F ===== */
  text(505, 160, "F", { size: 10.5, bold: true, align: "center" });
  const fAx = addGrid(
    { left: 520, top: 144, width: 136, height: 147, show: true, borderColor: "#666", borderWidth: 0.6 },
    {
      type: "value", min: 0.891, max: 2.122, splitLine: { show: false },
      axisLine: { show: false, onZero: false },
      axisTick: { show: true, length: 2.5, customValues: [1, 2], lineStyle: axisLineStyle("#333", 0.6) },
      axisLabel: { show: true, customValues: [1, 2], fontSize: 6.4, color: "#222", margin: 5, fontFamily: FONT, formatter: (v: number) => F_AXES[Math.round(v) - 1] },
    },
    {
      type: "value", min: -2.8, max: 270, splitLine: { show: false },
      axisLine: { show: false, onZero: false },
      axisTick: { show: true, length: 2.5, customValues: F_Y_TICKS, lineStyle: axisLineStyle("#333", 0.6) },
      axisLabel: { show: true, customValues: F_Y_TICKS, fontSize: 6, color: "#444", margin: 3, fontFamily: FONT },
    }
  );
  const HW = 0.063;
  const leftTot = F_COUNTS.map((r) => r.reduce((a, b) => a + b, 0));
  const rightTot = F_RIGHT.map((_, s) => F_COUNTS.reduce((a, r) => a + r[s], 0));
  const leftStart = leftTot.map((_, a) => leftTot.slice(0, a).reduce((x, y) => x + y, 0));
  const rightStart = rightTot.map((_, s) => rightTot.slice(0, s).reduce((x, y) => x + y, 0));
  const flows: any[] = [];
  [1, 0].forEach((a) =>
    F_RIGHT.forEach((_, s) => {
      const l0 = leftStart[a] + F_COUNTS[a].slice(0, s).reduce((x, y) => x + y, 0);
      let r0 = rightStart[s];
      for (let b = 0; b < a; b++) r0 += F_COUNTS[b][s];
      const n = F_COUNTS[a][s];
      flows.push({ a, l0, l1: l0 + n, r0, r1: r0 + n });
    })
  );
  series.push({
    type: "custom", xAxisIndex: fAx.x, yAxisIndex: fAx.y, clip: false, silent: true,
    data: [[1.5, 100]],
    renderItem: (_p: any, api: any) => {
      const ch: any[] = [];
      [0, 50, 100, 150, 200, 250].forEach((v) => {
        const a = api.coord([0.891, v]);
        const b = api.coord([2.122, v]);
        ch.push({ type: "line", shape: { x1: a[0], y1: a[1], x2: b[0], y2: b[1] }, style: { stroke: v % 100 === 0 ? "#e6e6e6" : "#f2f2f2", lineWidth: v % 100 === 0 ? 0.7 : 0.4 } });
      });
      [1, 1.5, 2].forEach((v) => {
        const a = api.coord([v, -2.8]);
        const b = api.coord([v, 270]);
        ch.push({ type: "line", shape: { x1: a[0], y1: a[1], x2: b[0], y2: b[1] }, style: { stroke: v === 1.5 ? "#f0f0f0" : "#e6e6e6", lineWidth: 0.6 } });
      });
      return { type: "group", children: ch };
    },
    z: 0,
  });
  series.push({
    type: "custom", xAxisIndex: fAx.x, yAxisIndex: fAx.y, clip: false,
    data: flows.map((f) => [1.5, (f.l0 + f.r1) / 2]),
    renderItem: (p: any, api: any) => {
      const f = flows[p.dataIndex];
      const N = 30;
      const x0 = 1 + HW;
      const x1 = 2 - HW;
      const top: number[][] = [];
      const bot: number[][] = [];
      for (let k = 0; k <= N; k++) {
        const t = k / N;
        const e = (1 - Math.cos(Math.PI * t)) / 2;
        const x = x0 + (x1 - x0) * t;
        top.push(api.coord([x, f.l1 + (f.r1 - f.l1) * e]));
        bot.push(api.coord([x, f.l0 + (f.r0 - f.l0) * e]));
      }
      return { type: "polygon", shape: { points: top.concat(bot.reverse()) }, style: { fill: F_COLORS[f.a] } };
    },
    z: 2,
  });
  const boxes: any[] = [];
  F_LEFT.forEach((name, a) => boxes.push({ x: 1, y0: leftStart[a], y1: leftStart[a] + leftTot[a], label: name, rot: true }));
  F_RIGHT.forEach((name, s) => boxes.push({ x: 2, y0: rightStart[s], y1: rightStart[s] + rightTot[s], label: name, rot: false }));
  series.push({
    type: "custom", xAxisIndex: fAx.x, yAxisIndex: fAx.y, clip: false,
    data: boxes.map((b) => [b.x, (b.y0 + b.y1) / 2]),
    renderItem: (p: any, api: any) => {
      const b = boxes[p.dataIndex];
      const tl = api.coord([b.x - HW, b.y1]);
      const br = api.coord([b.x + HW, b.y0]);
      const c = api.coord([b.x, (b.y0 + b.y1) / 2]);
      return {
        type: "group",
        children: [
          { type: "rect", shape: { x: tl[0], y: tl[1], width: br[0] - tl[0], height: br[1] - tl[1] }, style: { fill: "#fff", stroke: "#222", lineWidth: 0.8 } },
          {
            type: "text", x: c[0], y: c[1], rotation: b.rot ? Math.PI / 2 : 0,
            style: { text: b.label, fontSize: 5.6, fontFamily: FONT, fill: "#222", textAlign: "center", align: "center", textVerticalAlign: "middle", verticalAlign: "middle" },
          },
        ],
      };
    },
    z: 4,
  });

  /* ===== G ===== */
  text(5, 327, "G", { size: 10.5, bold: true, align: "center" });
  ROC_YEARS.forEach((yr, p) => {
    const [x0, x1, yT, yB] = G_FRAMES[p];
    const w = x1 - x0;
    const h = yB - yT;
    const axis = () => ({
      type: "value", min: -0.04, max: 1.04, splitLine: { show: false },
      axisLine: { show: false, onZero: false },
      axisTick: { show: true, length: 2.2, customValues: ROC_TICKS, lineStyle: axisLineStyle("#222", 0.6) },
      axisLabel: { show: true, customValues: ROC_TICKS, fontSize: 5, color: "#333", margin: 2.5, fontFamily: FONT, formatter: (v: number) => v.toFixed(1) },
    });
    const g = addGrid(
      { left: x0 - 0.04 * w, top: yT - 0.04 * h, width: 1.08 * w, height: 1.08 * h, show: true, borderColor: "#222", borderWidth: 0.6 },
      axis(),
      axis()
    );
    series.push({
      type: "line", xAxisIndex: g.x, yAxisIndex: g.y, symbol: "none", data: [[0, 0], [1, 1]],
      lineStyle: { color: "#333", width: 0.6, type: [1.5, 1.5] }, z: 2,
    });
    ROC_CURVES[p].forEach((curve, m) =>
      series.push({
        type: "line", xAxisIndex: g.x, yAxisIndex: g.y, symbol: "none", data: curve,
        lineStyle: { color: ROC_COLORS[m], width: 0.9 }, z: 3 + m,
      })
    );
    const cx = x0 + w / 2;
    text(cx, 343, `ROC for ${yr}-year Survival of LUAD`, { size: 6.4, align: "center" });
    text(x0 - 20, (yT + yB) / 2, "Sensitivity", { size: 6, align: "center", rot: Math.PI / 2 });
    text(cx, 464, "1-Specificity", { size: 6, align: "center" });
    const tx = x0 + G_LEGEND_AT[p] * w;
    ROC_AUC[p].forEach((auc, m) => {
      const y = yB - 30 + m * 5.15;
      gline(tx - 7, y, tx - 1, y, ROC_COLORS[m], 0.9);
      text(tx, y, m < 5 ? `${ROC_MODELS[m]}:${auc}` : ROC_MODELS[m], { size: 4.4 });
      if (m === 5) text(tx, y + 5.15, `interaction: ${auc}`, { size: 4.4 });
    });
  });

  return {
    animation: false,
    backgroundColor: "#fff",
    textStyle: { fontFamily: FONT },
    grid,
    xAxis,
    yAxis,
    series,
    graphic: { elements: graphic },
  };
}

export default function App() {
  const ref = useRef<HTMLDivElement>(null);
  useEffect(() => {
    if (!ref.current) return;
    const chart = echarts.init(ref.current, undefined, { renderer: "svg" });
    chart.setOption(buildOption() as any);
    return () => chart.dispose();
  }, []);
  return (
    <div
      ref={ref}
      style={{ position: "fixed", left: 0, top: 0, width: 669, height: 469, background: "#fff" }}
    />
  );
}
